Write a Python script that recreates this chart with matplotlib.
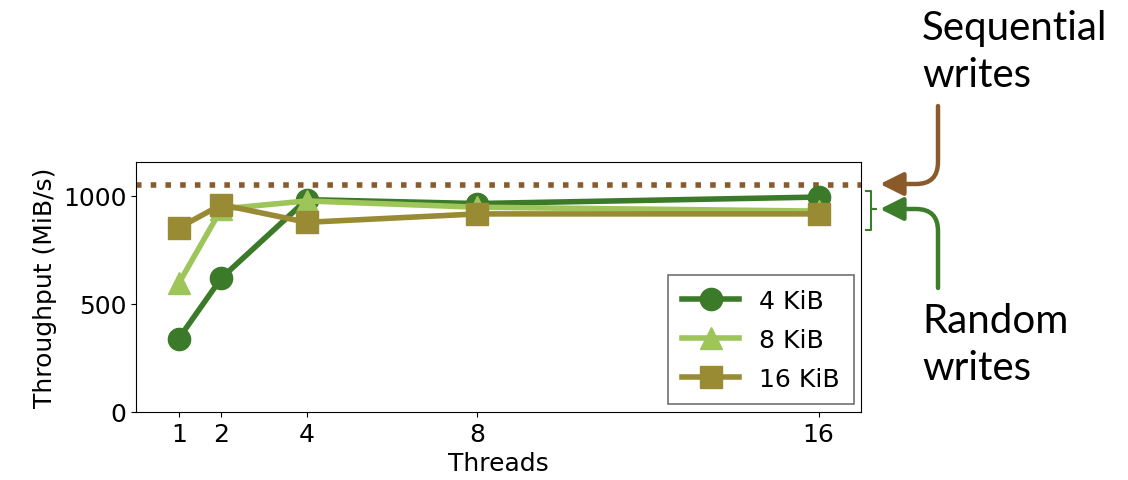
import matplotlib.pyplot as plt
from matplotlib.lines import Line2D

threads = [1, 2, 4, 8, 16]
labels = ['4 KiB', '8 KiB', '16 KiB']
throughput = [
    [340, 620, 983, 965, 995],
    [595, 940, 977, 948, 930],
    [852, 960, 878, 917, 917],
]
seq_write = 1050

colour = ['#3b7a29', '#9dc55a', '#998a34']
mark = ['o', '^', 's']
seq_colour = '#8b5a2b'
rand_colour = '#3b7d2a'

fig = plt.figure(figsize=(11.28, 4.81), dpi=100)
ax = fig.add_axes([0.1206, 0.1414, 0.643, 0.5196])

ax.axhline(seq_write, ls=':', lw=4, color=seq_colour)
for i, lab in enumerate(labels):
    ax.plot(threads, throughput[i], marker=mark[i], markersize=16, lw=4,
            color=colour[i], label=lab)

ax.set_xlim(0, 17)
ax.set_ylim(0, 1157)
ax.set_xticks(threads)
ax.set_yticks([0, 500, 1000])
ax.tick_params(labelsize=18)
ax.set_xlabel('Threads', fontsize=18)
ax.set_ylabel('Throughput (MiB/s)', fontsize=18)
leg = ax.legend(loc='lower right', fontsize=18, fancybox=False, edgecolor='0.3',
                borderaxespad=0.3, handlelength=2.3, labelspacing=0.6,
                borderpad=0.55)
leg.get_frame().set_linewidth(1.2)


# annotations on the right (figure pixel coordinates, y from top)
def fp(x, y):
    return (x / 1128, 1 - y / 481)


afont = dict(family=['Lato', 'DejaVu Sans'], fontsize=29, va='baseline', ha='left')
fig.text(*fp(922, 40), 'Sequential', **afont)
fig.text(*fp(922, 87), 'writes', **afont)
fig.text(*fp(922, 333), 'Random', **afont)
fig.text(*fp(922, 380), 'writes', **afont)

ax.annotate('', xy=fp(880, 185), xycoords='figure fraction',
            xytext=fp(938, 107), textcoords='figure fraction',
            arrowprops=dict(arrowstyle='-|>,head_length=0.7,head_width=0.35',
                            connectionstyle='angle,angleA=90,angleB=0,rad=22',
                            color=seq_colour, lw=3.2, mutation_scale=20,
                            shrinkA=0, shrinkB=0))
ax.annotate('', xy=fp(880, 210), xycoords='figure fraction',
            xytext=fp(938, 289), textcoords='figure fraction',
            arrowprops=dict(arrowstyle='-|>,head_length=0.7,head_width=0.35',
                            connectionstyle='angle,angleA=90,angleB=0,rad=22',
                            color=rand_colour, lw=3.2, mutation_scale=20,
                            shrinkA=0, shrinkB=0))

# bracket around the random-write lines
bx = [866, 871, 871, 876, 871, 871, 866]
by = [192, 192, 210, 210, 210, 231, 231]
fig.add_artist(Line2D([x / 1128 for x in bx], [1 - y / 481 for y in by],
                      transform=fig.transFigure, color=rand_colour, lw=1.5))

plt.savefig('out.png', dpi=100)
